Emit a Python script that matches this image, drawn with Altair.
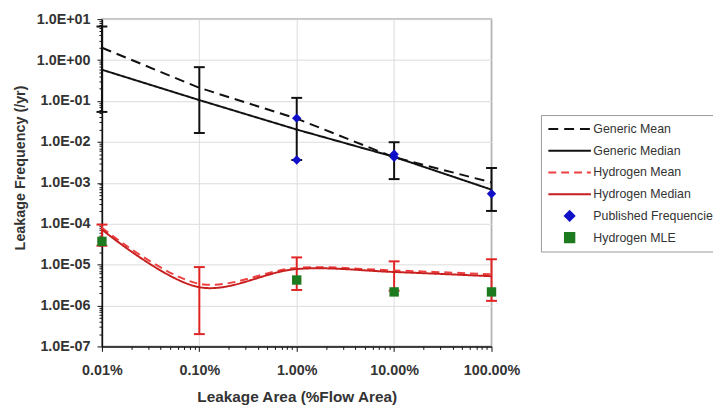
import altair as alt
import pandas as pd

# ---------------- data ----------------
x_vals = [0.01, 0.1, 1, 10, 100]          # leakage area, % of flow area
x_tick_values = [0.01, 0.1, 1, 10, 100]
x_tick_labels = ["0.01%", "0.10%", "1.00%", "10.00%", "100.00%"]
y_tick_values = [1e-7, 1e-6, 1e-5, 1e-4, 1e-3, 1e-2, 1e-1, 1e0, 1e1]
y_tick_labels = ["1.0E-07", "1.0E-06", "1.0E-05", "1.0E-04", "1.0E-03",
                 "1.0E-02", "1.0E-01", "1.0E+00", "1.0E+01"]

generic_mean = [2.0, 0.21, 0.037, 0.0042, 0.00102]
generic_median = [0.58, 0.105, 0.020, 0.0043, 0.00068]
generic_low = [0.054, 0.0165, 0.0036, 0.00123, 0.000205]
generic_high = [6.6, 0.67, 0.119, 0.0098, 0.0023]

h2_mean = [7.9e-5, 3.4e-6, 8.3e-6, 7.2e-6, 5.8e-6]
h2_median = [7.2e-5, 2.8e-6, 7.8e-6, 6.6e-6, 5.2e-6]
h2_low = [2.9e-5, 2.0e-7, 2.4e-6, 2.3e-6, 1.3e-6]
h2_high = [9.5e-5, 8.7e-6, 1.5e-5, 1.2e-5, 1.35e-5]

pub_x = [1, 1, 10, 10, 100]
pub_freq = [0.038, 0.0036, 0.0050, 0.0042, 0.00054]
mle_x = [0.01, 1, 10, 100]
mle_freq = [3.7e-5, 4.2e-6, 2.15e-6, 2.15e-6]

series = ["Generic Mean", "Generic Median", "Hydrogen Mean", "Hydrogen Median",
          "Published Frequencies", "Hydrogen MLE"]
colors = ["#111111", "#111111", "#ee4040", "#c81e1e", "#1010c8", "#1e7a1e"]
dashes = [[10, 6], [1, 0], [8, 5], [1, 0], [1, 0], [1, 0]]
shapes = ["stroke", "stroke", "stroke", "stroke", "diamond", "square"]
sizes = [1850, 1850, 1850, 1850, 90, 90]
err_groups = ["generic", "hydrogen"]
err_colors = ["#111111", "#e02424"]

# ---------------- tables ----------------
gen_lines = pd.DataFrame(
    [{"x": x, "y": v, "series": "Generic Mean"} for x, v in zip(x_vals, generic_mean)]
    + [{"x": x, "y": v, "series": "Generic Median"} for x, v in zip(x_vals, generic_median)]
)
h2_lines = pd.DataFrame(
    [{"x": x, "y": v, "series": "Hydrogen Mean"} for x, v in zip(x_vals, h2_mean)]
    + [{"x": x, "y": v, "series": "Hydrogen Median"} for x, v in zip(x_vals, h2_median)]
)
err = pd.DataFrame(
    [{"x": x, "lo": lo, "hi": hi, "grp": "generic"} for x, lo, hi in zip(x_vals, generic_low, generic_high)]
    + [{"x": x, "lo": lo, "hi": hi, "grp": "hydrogen"} for x, lo, hi in zip(x_vals, h2_low, h2_high)]
)
points = pd.DataFrame(
    [{"x": x, "y": v, "series": "Published Frequencies"} for x, v in zip(pub_x, pub_freq)]
    + [{"x": x, "y": v, "series": "Hydrogen MLE"} for x, v in zip(mle_x, mle_freq)]
)

FONT = "Liberation Sans"

def is_major(vals):
    return " || ".join(f"abs(datum.value - {v}) < {v * 1e-6}" for v in vals)

def label_expr(vals, labels):
    parts = [f"abs(datum.value - {v}) < {v * 1e-6} ? '{l}'" for v, l in zip(vals, labels)]
    return " : ".join(parts) + " : ''"

x_all = sorted(set([round(d * m, 6) for d in x_tick_values[:-1] for m in range(1, 10)] + [100]))
y_all = sorted(set([float(f"{d * m:.3g}") for d in y_tick_values[:-1] for m in range(1, 10)] + [10.0]))

x_scale = alt.Scale(type="log", domain=[0.01, 100], nice=False)
y_scale = alt.Scale(type="log", domain=[1e-7, 10], nice=False)

x_axis = alt.Axis(
    values=x_all, labelExpr=label_expr(x_tick_values, x_tick_labels),
    grid=True, gridColor="#dcdcdc", gridWidth=1,
    gridOpacity={"condition": {"test": is_major(x_tick_values), "value": 1}, "value": 0},
    tickSize={"condition": {"test": is_major(x_tick_values), "value": 5}, "value": 3},
    tickColor="#111111", domainColor="#111111", domainWidth=1.5, zindex=0,
    labelFont=FONT, labelFontSize=14.5, labelFontWeight="bold", labelColor="#333333",
    labelPadding=12, labelOverlap=False, labelFlush=False, labelBound=False,
    title="Leakage Area (%Flow Area)", titleFont=FONT, titleFontSize=15.5,
    titleFontWeight="bold", titleColor="#333333", titlePadding=13,
)
y_axis = alt.Axis(
    values=y_all, labelExpr=label_expr(y_tick_values, y_tick_labels),
    grid=True, gridColor="#dcdcdc", gridWidth=1,
    gridOpacity={"condition": {"test": is_major(y_tick_values), "value": 1}, "value": 0},
    tickSize={"condition": {"test": is_major(y_tick_values), "value": 5}, "value": 3},
    tickColor="#111111", domainColor="#111111", domainWidth=1.5, zindex=0,
    labelFont=FONT, labelFontSize=14.5, labelFontWeight="bold", labelColor="#333333",
    labelPadding=7, labelOverlap=False, labelFlush=False, labelBound=False,
    title="Leakage Frequency (/yr)", titleFont=FONT, titleFontSize=14.5,
    titleFontWeight="bold", titleColor="#333333", titlePadding=9, titleY=150,
)

legend = alt.Legend(
    title=None, orient="none", legendX=444, legendY=97,
    strokeColor="#9a9a9a", fillColor="white", padding=4,
    symbolOffset=2, clipHeight=20, rowPadding=2, symbolStrokeWidth=2,
    labelOffset=1, labelFont=FONT, labelFontSize=12.5, labelColor="#333333",
    labelLimit=300,
)

color_enc = alt.Color("series:N", scale=alt.Scale(domain=series, range=colors), legend=legend)
dash_enc = alt.StrokeDash("series:N", scale=alt.Scale(domain=series, range=dashes), legend=legend)
shape_enc = alt.Shape("series:N", scale=alt.Scale(domain=series, range=shapes), legend=legend)
size_enc = alt.Size("series:N", scale=alt.Scale(type="ordinal", domain=series, range=sizes), legend=legend)

X = alt.X("x:Q", scale=x_scale, axis=x_axis)
Y = alt.Y("y:Q", scale=y_scale, axis=y_axis)
Xe = alt.X("x:Q", scale=x_scale)
err_stroke = alt.Stroke("grp:N", scale=alt.Scale(domain=err_groups, range=err_colors), legend=None)
err_fill = alt.Fill("grp:N", scale=alt.Scale(domain=err_groups, range=err_colors), legend=None)

gen_line_layer = alt.Chart(gen_lines).mark_line(strokeWidth=2).encode(
    x=X, y=Y, color=color_enc, strokeDash=dash_enc)

err_rule = alt.Chart(err).mark_rule(strokeWidth=2).encode(
    x=Xe, y=alt.Y("lo:Q", scale=y_scale), y2="hi:Q", stroke=err_stroke)
cap_lo = alt.Chart(err).mark_tick(thickness=2, size=11, orient="horizontal", opacity=1).encode(
    x=Xe, y=alt.Y("lo:Q", scale=y_scale), fill=err_fill)
cap_hi = alt.Chart(err).mark_tick(thickness=2, size=11, orient="horizontal", opacity=1).encode(
    x=Xe, y=alt.Y("hi:Q", scale=y_scale), fill=err_fill)

h2_line_layer = alt.Chart(h2_lines).mark_line(strokeWidth=2, interpolate="catmull-rom").encode(
    x=X, y=Y, color=color_enc, strokeDash=dash_enc)

point_layer = alt.Chart(points).mark_point(filled=True, opacity=1).encode(
    x=X, y=Y, color=color_enc, shape=shape_enc, size=size_enc)

chart = alt.layer(
    gen_line_layer, err_rule, cap_lo, cap_hi, h2_line_layer, point_layer,
).resolve_scale(fill="independent", stroke="independent").properties(
    width=394, height=331,
    autosize=alt.AutoSizeParams(type="none"),
    padding={"left": 95, "top": 9, "right": 224, "bottom": 60},
).configure_view(stroke="#8a8a8a", strokeWidth=1.5)

chart.save("out.html", embed_options={"renderer": "svg", "actions": False})
